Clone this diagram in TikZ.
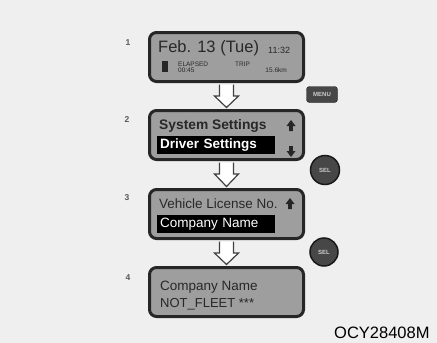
\documentclass[tikz,border=0pt]{standalone}
\usepackage{fontspec}
\setmainfont{Liberation Sans}
\usetikzlibrary{calc}
\definecolor{bgcol}{RGB}{239,239,239}
\definecolor{lcdcol}{RGB}{158,158,158}
\definecolor{lcdtext}{RGB}{40,40,40}

\begin{document}
\begin{tikzpicture}[x=1pt,y=-1pt,
  screen/.style={draw=black!85,line width=3pt,rounded corners=7pt,fill=lcdcol,
                 minimum width=154pt,minimum height=49pt},
  lcd/.style={text=lcdtext,inner sep=0pt,anchor=base west,
              font=\fontsize{13.5}{14}\selectfont},
  tiny/.style={text=lcdtext,inner sep=0pt,anchor=base west,
               font=\fontsize{6.5}{7}\selectfont},
  hilite/.style={fill=black,text=white,anchor=west,text width=112pt,inner sep=3pt,
                 minimum height=17pt,align=left,font=\fontsize{13.5}{14}\selectfont},
  stepno/.style={text=black!65,font=\bfseries\fontsize{8.5}{9}\selectfont},
  knob/.style={fill=black!72,draw=black!90,text=white!80!black,inner sep=0pt,
               font=\bfseries\fontsize{6}{6}\selectfont},
  hollow/.style={draw=black!75,fill=white,line width=1.2pt,line join=miter},
  uptip/.pic={\fill[black!85] (-1.8,0) -- (-1.8,-5) -- (-4.5,-5) -- (0,-11)
               -- (4.5,-5) -- (1.8,-5) -- (1.8,0) -- cycle;}]
  \useasboundingbox (0,0) rectangle (437,343);
  \fill[bgcol] (0,0) rectangle (437,343);

  % the four displays
  \node[screen] (s1) at (226.5,57)  {};
  \node[screen] (s2) at (226.5,135) {};
  \node[screen] (s3) at (226.5,214) {};
  \node[screen] (s4) at (226.5,292) {};

  % step numbers
  \node[stepno] (n1) at (128,43)  {1};
  \node[stepno] (n2) at (127,120) {2};
  \node[stepno] (n3) at (127,198) {3};
  \node[stepno] (n4) at (128,278) {4};

  % hollow arrows between the displays
  \foreach \a/\b in {s1/s2,s2/s3,s3/s4}
    \draw[hollow] ($(\a.south)+(-7,1.5)$) -- ($(\a.south)+(-7,13)$)
      -- ($(\a.south)+(-12,13)$) -- ($(\b.north)+(0,-1.5)$)
      -- ($(\a.south)+(12,13)$) -- ($(\a.south)+(7,13)$) -- ($(\a.south)+(7,1.5)$);

  % display 1
  \node[lcd,font=\fontsize{16.5}{17}\selectfont] (date) at (158,52) {Feb. 13 (Tue)};
  \node[tiny,font=\fontsize{9}{9}\selectfont] (clock) at (268,53) {11:32};
  \node[fill=black!85,minimum width=6pt,minimum height=11pt,inner sep=0pt] (bar) at (165,66.5) {};
  \node[tiny] (elapsed) at (178,66) {ELAPSED};
  \node[tiny] (etime) at (178,72) {00:45};
  \node[tiny] (trip) at (235,66) {TRIP};
  \node[tiny,anchor=base east] (dist) at (287,72) {15.6km};

  % display 2
  \node[lcd,font=\bfseries\fontsize{13.8}{14}\selectfont] (sys) at (159,129) {System Settings};
  \node[hilite,font=\bfseries\fontsize{13.5}{14}\selectfont] (drv) at (157,145) {Driver Settings};
  \pic at (291,131) {uptip};
  \pic[rotate=180] at (291,146) {uptip};

  % display 3
  \node[lcd] (veh) at (159,208) {Vehicle License No.};
  \node[hilite] (comp) at (157,224) {Company Name};
  \pic at (290,209) {uptip};

  % display 4
  \node[lcd] (cname) at (160,290) {Company Name};
  \node[lcd,font=\fontsize{13}{14}\selectfont] (fleet) at (160,307) {NOT\_FLEET ***};

  % buttons
  \node[knob,rounded corners=3pt,minimum width=31pt,minimum height=16pt] (menu) at (322,94.5) {MENU};
  \node[knob,circle,line width=1.5pt,minimum size=29pt] (sel1) at (325,170) {SEL};
  \node[knob,circle,line width=1.5pt,minimum size=28pt] (sel2) at (324,252) {SEL};

  % figure code
  \node[anchor=base west,inner sep=0pt,font=\fontsize{16.5}{17}\selectfont] (code) at (334,338) {OCY28408M};
\end{tikzpicture}
\end{document}
